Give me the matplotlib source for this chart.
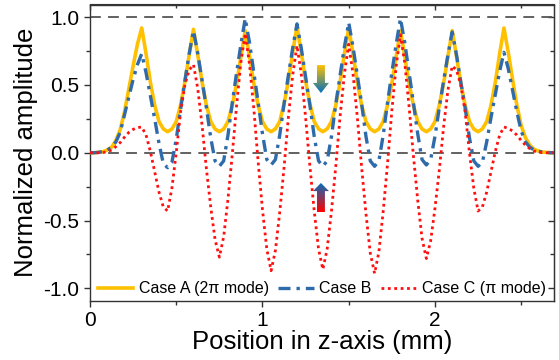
import matplotlib
matplotlib.use("Agg")
import matplotlib.pyplot as plt
import numpy as np
from matplotlib.patches import Polygon
from matplotlib.colors import LinearSegmentedColormap
from matplotlib.ticker import MultipleLocator

plt.rcParams['font.family'] = ['Liberation Sans', 'DejaVu Sans']

# ---- data ----
z_mm = [0.000, 0.025, 0.050, 0.075, 0.100, 0.125, 0.150, 0.175, 0.200, 0.225,
        0.250, 0.275, 0.300, 0.325, 0.350, 0.375, 0.400, 0.425, 0.450, 0.475,
        0.500, 0.525, 0.550, 0.575, 0.600, 0.625, 0.650, 0.675, 0.700, 0.725,
        0.750, 0.775, 0.800, 0.825, 0.850, 0.875, 0.900, 0.925, 0.950, 0.975,
        1.000, 1.025, 1.050, 1.075, 1.100, 1.125, 1.150, 1.175, 1.200, 1.225,
        1.250, 1.275, 1.300, 1.325, 1.350, 1.375, 1.400, 1.425, 1.450, 1.475,
        1.500, 1.525, 1.550, 1.575, 1.600, 1.625, 1.650, 1.675, 1.700, 1.725,
        1.750, 1.775, 1.800, 1.825, 1.850, 1.875, 1.900, 1.925, 1.950, 1.975,
        2.000, 2.025, 2.050, 2.075, 2.100, 2.125, 2.150, 2.175, 2.200, 2.225,
        2.250, 2.275, 2.300, 2.325, 2.350, 2.375, 2.400, 2.425, 2.450, 2.475,
        2.500, 2.525, 2.550, 2.575, 2.600, 2.625, 2.650, 2.675, 2.700]

case_a = [0.0, 0.0, 0.003, 0.008, 0.02, 0.04, 0.09, 0.17, 0.30, 0.47, 0.64, 0.80, 0.92,
          0.73, 0.52, 0.35, 0.23, 0.176, 0.155,
          0.175, 0.23, 0.35, 0.52, 0.72, 0.91,
          0.72, 0.52, 0.35, 0.23, 0.175, 0.155,
          0.175, 0.23, 0.35, 0.51, 0.71, 0.90,
          0.71, 0.51, 0.35, 0.23, 0.175, 0.155,
          0.176, 0.23, 0.36, 0.53, 0.74, 0.93,
          0.74, 0.53, 0.36, 0.23, 0.176, 0.155,
          0.176, 0.23, 0.35, 0.52, 0.73, 0.92,
          0.73, 0.52, 0.35, 0.23, 0.176, 0.155,
          0.175, 0.23, 0.35, 0.51, 0.71, 0.90,
          0.71, 0.51, 0.35, 0.23, 0.175, 0.155,
          0.175, 0.23, 0.35, 0.51, 0.71, 0.90,
          0.71, 0.51, 0.35, 0.23, 0.175, 0.155,
          0.176, 0.23, 0.35, 0.52, 0.73, 0.92,
          0.74, 0.54, 0.35, 0.20, 0.11, 0.055, 0.025, 0.012, 0.005, 0.002, 0.0, 0.0]

case_b = [0.0, 0.0, 0.003, 0.008, 0.02, 0.04, 0.08, 0.15, 0.28, 0.41, 0.54, 0.65, 0.73,
          0.59, 0.42, 0.25, 0.07, -0.08, -0.11,
          -0.07, 0.10, 0.32, 0.53, 0.73, 0.90,
          0.73, 0.53, 0.33, 0.11, -0.06, -0.10,
          -0.06, 0.13, 0.37, 0.59, 0.80, 0.99,
          0.81, 0.59, 0.37, 0.14, -0.05, -0.09,
          -0.05, 0.13, 0.36, 0.57, 0.77, 0.95,
          0.77, 0.56, 0.35, 0.12, -0.06, -0.10,
          -0.06, 0.12, 0.36, 0.57, 0.78, 0.96,
          0.78, 0.57, 0.36, 0.12, -0.06, -0.10,
          -0.06, 0.13, 0.37, 0.59, 0.80, 0.99,
          0.81, 0.59, 0.37, 0.14, -0.05, -0.09,
          -0.05, 0.12, 0.33, 0.53, 0.72, 0.89,
          0.72, 0.52, 0.33, 0.11, -0.06, -0.10,
          -0.07, 0.08, 0.26, 0.43, 0.60, 0.74,
          0.62, 0.46, 0.30, 0.16, 0.08, 0.04, 0.02, 0.01, 0.005, 0.002, 0.0, 0.0]

case_c = [0.0, 0.0, 0.0, 0.002, 0.006, 0.02, 0.045, 0.075, 0.115, 0.15, 0.172, 0.185, 0.19,
          0.13, 0.01, -0.14, -0.29, -0.40, -0.43,
          -0.26, 0.0, 0.30, 0.50, 0.61, 0.65,
          0.47, 0.20, -0.12, -0.40, -0.64, -0.77,
          -0.62, -0.34, -0.01, 0.35, 0.67, 0.88,
          0.65, 0.32, -0.07, -0.42, -0.71, -0.87,
          -0.72, -0.44, -0.11, 0.26, 0.57, 0.79,
          0.58, 0.26, -0.10, -0.43, -0.71, -0.86,
          -0.71, -0.43, -0.10, 0.27, 0.58, 0.80,
          0.58, 0.26, -0.11, -0.45, -0.74, -0.89,
          -0.73, -0.43, -0.08, 0.31, 0.64, 0.87,
          0.66, 0.34, -0.02, -0.35, -0.63, -0.78,
          -0.65, -0.41, -0.13, 0.19, 0.46, 0.64,
          0.61, 0.50, 0.30, 0.0, -0.26, -0.43,
          -0.40, -0.29, -0.14, 0.01, 0.13, 0.19,
          0.18, 0.16, 0.13, 0.09, 0.055, 0.03, 0.012, 0.004, 0.001, 0.0, 0.0, 0.0]

series_labels = ['Case A (2\u03c0 mode)', 'Case B', 'Case C (\u03c0 mode)']
x_ticks = [0, 1, 2]
y_ticks = [-1.0, -0.5, 0.0, 0.5, 1.0]

# ---- figure ----
fig = plt.figure(figsize=(5.59, 3.60), dpi=100)
ax = fig.add_axes([0.161, 0.164, 0.830, 0.8235])

ax.axhline(1.0, color='#555555', lw=1.3, ls=(0, (6, 4)), zorder=1)
ax.axhline(0.0, color='#555555', lw=1.3, ls=(0, (6, 4)), zorder=1)

ax.plot(z_mm, case_a, color='#FFC000', lw=2.6, ls='-', label=series_labels[0], zorder=3)
ax.plot(z_mm, case_b, color='#2F6BAA', lw=2.4, ls=(0, (3.6, 1.8, 1.0, 1.8)),
        label=series_labels[1], zorder=4)
ax.plot(z_mm, case_c, color='#FF1010', lw=2.0, ls=(0, (1, 1.3)), label=series_labels[2], zorder=5)

xlim = (0, 2.69)
ylim = (-1.093, 1.093)
ax.set_xlim(*xlim)
ax.set_ylim(*ylim)
ax.set_xticks(x_ticks)
ax.set_xticklabels([str(t) for t in x_ticks])
ax.set_yticks(y_ticks)
ax.set_yticklabels(['%.1f' % t for t in y_ticks])
ax.xaxis.set_minor_locator(MultipleLocator(0.5))
ax.yaxis.set_minor_locator(MultipleLocator(0.25))
ax.tick_params(axis='both', which='major', labelsize=15, length=4, width=1,
               colors='#333333', labelcolor='black', direction='out')
ax.tick_params(axis='both', which='minor', length=3, width=1, colors='#333333', direction='out')
for sp in ax.spines.values():
    sp.set_color('#333333')
    sp.set_linewidth(1.0)

# mirrored inward ticks on top and right
secx = ax.secondary_xaxis('top')
secx.set_xticks(x_ticks)
secx.xaxis.set_minor_locator(MultipleLocator(0.5))
secx.tick_params(axis='x', which='major', direction='in', length=4, width=1, colors='#333333',
                 labeltop=False)
secx.tick_params(axis='x', which='minor', direction='in', length=3, width=1, colors='#333333')
secx.spines['top'].set_color('#333333')
secy = ax.secondary_yaxis('right')
secy.set_yticks(y_ticks)
secy.yaxis.set_minor_locator(MultipleLocator(0.25))
secy.tick_params(axis='y', which='major', direction='in', length=4, width=1, colors='#333333',
                 labelright=False)
secy.tick_params(axis='y', which='minor', direction='in', length=3, width=1, colors='#333333')
secy.spines['right'].set_color('#333333')

ax.set_xlabel('Position in z-axis (mm)', fontsize=18.5, labelpad=0)
ax.set_ylabel('Normalized amplitude', fontsize=18.5, labelpad=4)

leg = ax.legend(loc='center', bbox_to_anchor=(0.5, 0.041), ncol=3, frameon=False,
                fontsize=11.5, handlelength=2.2, handletextpad=0.35, columnspacing=0.6,
                borderpad=0, borderaxespad=0)

# ---- gradient arrows ----
def grad_arrow(xc, y_tail, y_tip, shaft_w, head_w, head_len, c_tail, c_tip):
    d = np.sign(y_tip - y_tail)
    yb = y_tip - d * head_len
    pts = [(xc - shaft_w / 2, y_tail), (xc + shaft_w / 2, y_tail), (xc + shaft_w / 2, yb),
           (xc + head_w / 2, yb), (xc, y_tip), (xc - head_w / 2, yb), (xc - shaft_w / 2, yb)]
    poly = Polygon(pts, closed=True, facecolor='none', edgecolor='none', zorder=6)
    ax.add_patch(poly)
    cmap = LinearSegmentedColormap.from_list('g', [c_tail, c_tip])
    grad = np.linspace(0, 1, 100).reshape(-1, 1)
    ylo, yhi = min(y_tail, y_tip), max(y_tail, y_tip)
    img = 1 - grad if y_tip < y_tail else grad
    im = ax.imshow(img, cmap=cmap, vmin=0, vmax=1, aspect='auto', origin='lower',
                   extent=(xc - head_w / 2, xc + head_w / 2, ylo, yhi), zorder=6)
    im.set_clip_path(poly)

grad_arrow(1.339, 0.646, 0.44, 0.046, 0.093, 0.075, '#FFC000', '#0070C0')
grad_arrow(1.339, -0.437, -0.223, 0.046, 0.093, 0.06, '#FF0000', '#0070C0')

ax.set_xlim(*xlim)
ax.set_ylim(*ylim)

fig.savefig('out.png', dpi=100)
